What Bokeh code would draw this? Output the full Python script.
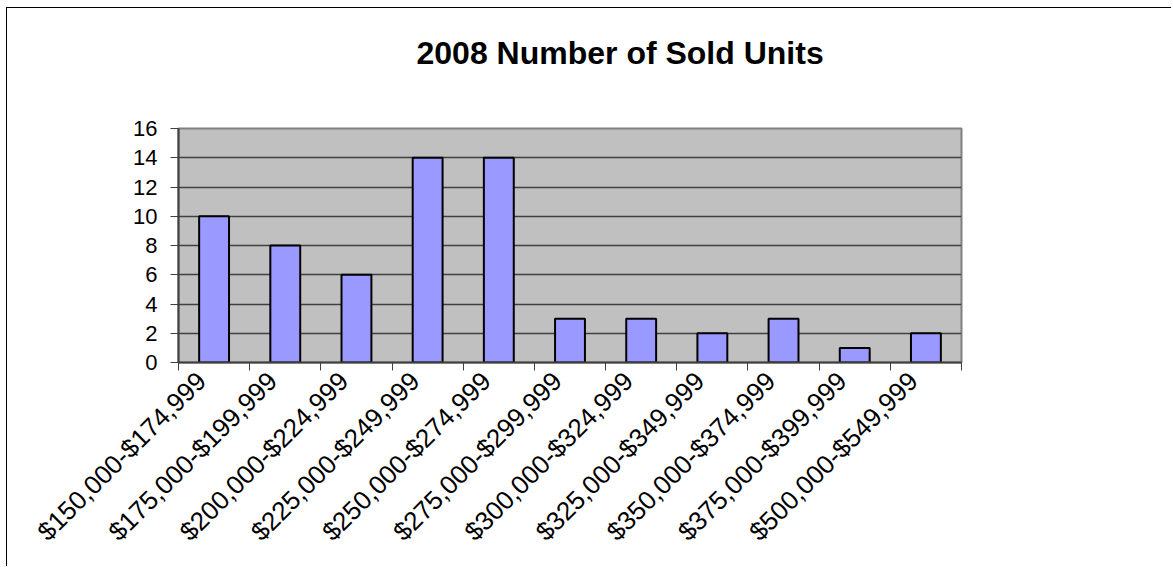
import math
from bokeh.plotting import figure
from bokeh.models import FactorRange, Range1d, FixedTicker, LinearAxis, Title
from bokeh.embed import file_html
from bokeh.resources import INLINE

categories = ["$150,000-$174,999", "$175,000-$199,999", "$200,000-$224,999",
              "$225,000-$249,999", "$250,000-$274,999", "$275,000-$299,999",
              "$300,000-$324,999", "$325,000-$349,999", "$350,000-$374,999",
              "$375,000-$399,999", "$500,000-$549,999"]
units = [10, 8, 6, 14, 14, 3, 3, 2, 3, 1, 2]
y_ticks = [0, 2, 4, 6, 8, 10, 12, 14, 16]
title_text = "2008 Number of Sold Units"

FONT = "Liberation Sans"

p = figure(x_range=FactorRange(factors=categories, range_padding=0),
           y_range=Range1d(0, 16), x_axis_location=None,
           width=1165, height=559, output_backend="svg", toolbar_location=None,
           min_border_left=171, min_border_right=211, min_border_top=120,
           min_border_bottom=205)
p.styles = {"border-left": "1px solid black", "border-top": "1px solid black",
            "box-sizing": "border-box", "margin-left": "6px", "margin-top": "7px"}

# a trailing blank line lifts the title into the upper white band
p.add_layout(Title(text=title_text + "\n ", text_font=FONT, text_font_size="32px",
                   text_font_style="bold", text_color="black", align="left",
                   offset=238, standoff=44), "above")

p.background_fill_color = "#C0C0C0"
p.border_fill_color = "white"
p.outline_line_color = "#808080"
p.outline_line_width = 2

p.vbar(x=categories, top=units, width=0.42, fill_color="#9999FF",
       line_color="black", line_width=2)

p.xgrid.grid_line_color = None
p.ygrid.grid_line_color = "#404040"
p.ygrid.grid_line_width = 1.5

p.yaxis.ticker = FixedTicker(ticks=y_ticks)
p.yaxis.minor_tick_line_color = None
p.yaxis.major_tick_out = 8
p.yaxis.major_tick_in = 0
p.yaxis.axis_line_color = "#404040"
p.yaxis.axis_line_width = 2
p.yaxis.major_tick_line_color = "#404040"
p.yaxis.major_label_text_font = FONT
p.yaxis.major_label_text_font_size = "22px"
p.yaxis.major_label_text_color = "black"
p.yaxis.major_label_standoff = 13

# axis carrying tick marks at category boundaries
boundaries = list(range(len(categories) + 1))
tick_axis = LinearAxis(ticker=FixedTicker(ticks=boundaries, minor_ticks=[]),
                       major_label_overrides={b: "" for b in boundaries},
                       major_label_text_font_size="1px", major_label_standoff=0,
                       axis_line_color="#404040", axis_line_width=2,
                       major_tick_line_color="#404040", major_tick_out=8,
                       major_tick_in=0, minor_tick_line_color=None)
p.add_layout(tick_axis, "below")

# axis carrying the rotated category labels, nudged left of the centres
label_pos = [round(i + 0.32, 2) for i in range(len(categories))]
label_axis = LinearAxis(ticker=FixedTicker(ticks=label_pos, minor_ticks=[]),
                        major_label_overrides={v: c for v, c in zip(label_pos, categories)},
                        major_label_orientation=math.pi / 4,
                        major_label_text_font=FONT, major_label_text_font_size="26px",
                        major_label_text_color="black", major_label_standoff=0,
                        axis_line_color=None, major_tick_line_color=None,
                        minor_tick_line_color=None)
p.add_layout(label_axis, "below")

open("out.html", "w").write(file_html(p, INLINE))
